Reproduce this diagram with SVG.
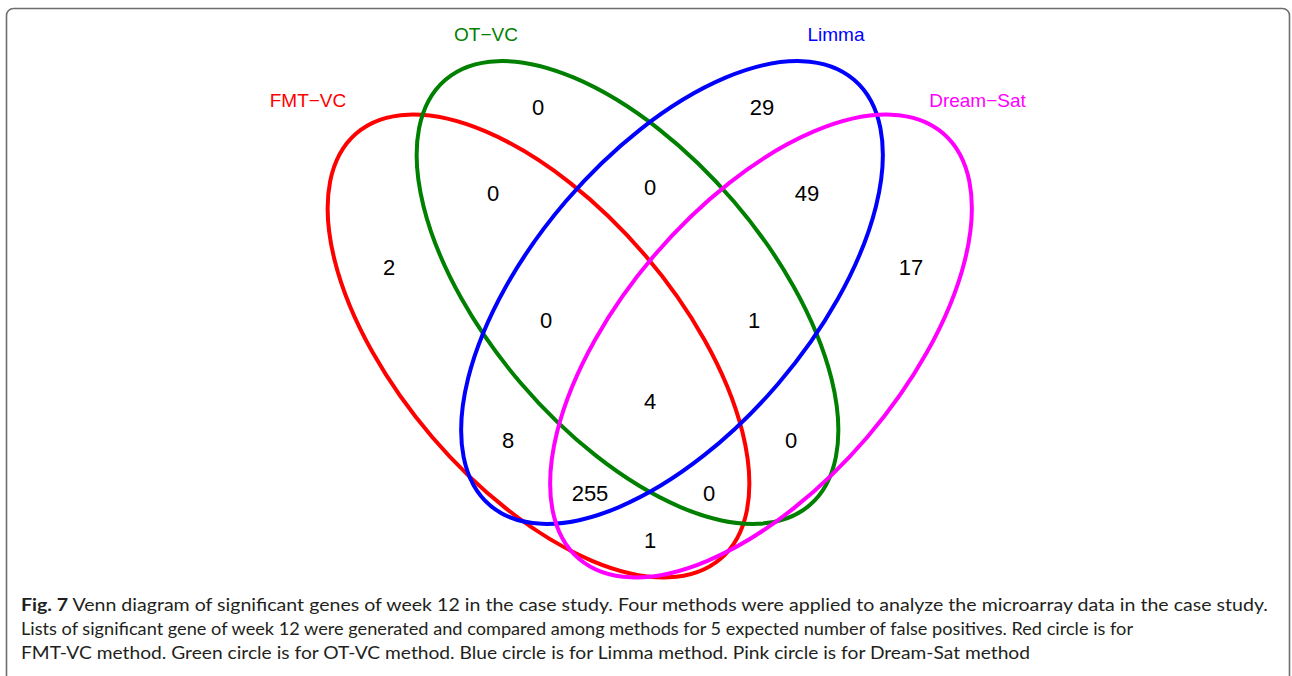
<svg xmlns="http://www.w3.org/2000/svg" width="1292" height="676" viewBox="0 0 1292 676">
<style>
.set{fill:none;stroke-width:4}
.num{font-family:"Liberation Sans",Arial,sans-serif;font-size:22px;fill:#000;text-anchor:middle}
.lab{font-family:"Liberation Sans",Arial,sans-serif;font-size:19px;text-anchor:middle}
.cap{font-family:Lato,"Noto Sans",sans-serif;font-size:16.5px;fill:#231f20}
</style>
<rect x="6.5" y="8.5" width="1283" height="720" rx="7" ry="7" fill="#fff" stroke="#6e6e6e" stroke-width="1.6"/>
<g id="fmt-vc">
<ellipse class="set" cx="538.5" cy="346" rx="280" ry="140" transform="rotate(49.45 538.5 346)" stroke="#ff0000"/>
<text class="lab" x="308" y="107" fill="#ff0000">FMT−VC</text>
</g>
<g id="ot-vc">
<ellipse class="set" cx="627.5" cy="292.5" rx="280" ry="140" transform="rotate(49.45 627.5 292.5)" stroke="#008000"/>
<text class="lab" x="486" y="41" fill="#008000">OT−VC</text>
</g>
<g id="limma">
<ellipse class="set" cx="672" cy="292.5" rx="280" ry="140" transform="rotate(-49.45 672 292.5)" stroke="#0000ff"/>
<text class="lab" x="836" y="41" fill="#0000ff">Limma</text>
</g>
<g id="dream-sat">
<ellipse class="set" cx="761" cy="346" rx="280" ry="140" transform="rotate(-49.45 761 346)" stroke="#ff00ff"/>
<text class="lab" x="977.5" y="107" fill="#ff00ff">Dream−Sat</text>
</g>
<g id="counts">
<text class="num" x="538" y="115">0</text>
<text class="num" x="762" y="115">29</text>
<text class="num" x="493" y="201">0</text>
<text class="num" x="650" y="195">0</text>
<text class="num" x="807" y="201">49</text>
<text class="num" x="389" y="275">2</text>
<text class="num" x="911" y="275">17</text>
<text class="num" x="546" y="328">0</text>
<text class="num" x="754" y="328">1</text>
<text class="num" x="650" y="409">4</text>
<text class="num" x="508" y="448">8</text>
<text class="num" x="791" y="448">0</text>
<text class="num" x="590" y="501">255</text>
<text class="num" x="709" y="501">0</text>
<text class="num" x="650" y="548">1</text>
</g>
<g id="caption">
<text class="cap" x="21" y="611" textLength="1247" lengthAdjust="spacingAndGlyphs"><tspan font-weight="bold">Fig. 7</tspan> Venn diagram of significant genes of week 12 in the case study. Four methods were applied to analyze the microarray data in the case study.</text>
<text class="cap" x="21" y="635" textLength="1112" lengthAdjust="spacingAndGlyphs">Lists of significant gene of week 12 were generated and compared among methods for 5 expected number of false positives. Red circle is for</text>
<text class="cap" x="21" y="659" textLength="1009" lengthAdjust="spacingAndGlyphs">FMT-VC method. Green circle is for OT-VC method. Blue circle is for Limma method. Pink circle is for Dream-Sat method</text>
</g>
</svg>
